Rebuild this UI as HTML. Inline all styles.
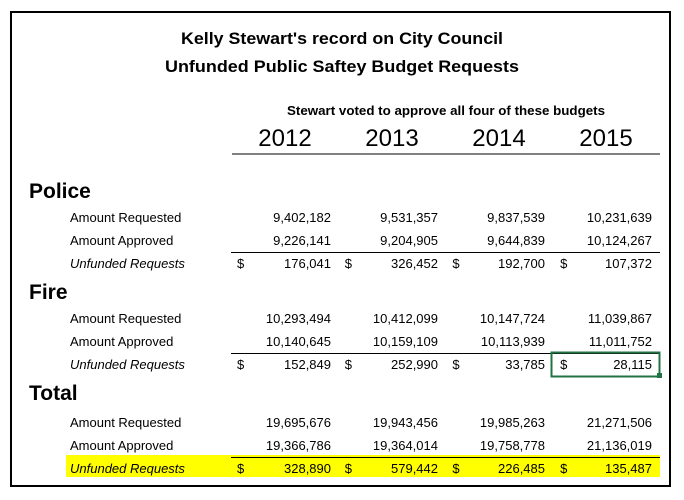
<!DOCTYPE html>
<html><head><meta charset="utf-8">
<style>
html,body{margin:0;padding:0;background:#fff;}
svg{display:block;font-family:"Liberation Sans",sans-serif;}
</style></head>
<body>
<svg id="chart" width="684" height="500" viewBox="0 0 684 500">
  <rect x="11" y="12" width="659" height="474" fill="#fff" stroke="#000" stroke-width="2"/>
  <text x="342" y="44" text-anchor="middle" font-size="17" font-weight="bold" textLength="322" lengthAdjust="spacingAndGlyphs">Kelly Stewart's record on City Council</text>
  <text x="342" y="72" text-anchor="middle" font-size="17" font-weight="bold" textLength="354" lengthAdjust="spacingAndGlyphs">Unfunded Public Saftey Budget Requests</text>
  <text x="446" y="115" text-anchor="middle" font-size="13" font-weight="bold" textLength="318" lengthAdjust="spacingAndGlyphs">Stewart voted to approve all four of these budgets</text>
  <line x1="232" y1="154" x2="660" y2="154" stroke="#000" stroke-width="1"/>
  <rect x="66" y="455" width="594" height="22" fill="#ffff00"/>
  <g id="cells"></g>
  <rect x="551.5" y="352.5" width="108" height="24" fill="none" stroke="#217346" stroke-width="2"/>
  <rect x="657" y="373" width="5" height="5" fill="#217346"/>
</svg>
<script>
const years = ["2012","2013","2014","2015"];
const sections = ["Police","Fire","Total"];
const rowLabels = ["Amount Requested","Amount Approved","Unfunded Requests"];
const policeRequested = [9402182,9531357,9837539,10231639];
const policeApproved = [9226141,9204905,9644839,10124267];
const policeUnfunded = [176041,326452,192700,107372];
const fireRequested = [10293494,10412099,10147724,11039867];
const fireApproved = [10140645,10159109,10113939,11011752];
const fireUnfunded = [152849,252990,33785,28115];
const totalRequested = [19695676,19943456,19985263,21271506];
const totalApproved = [19366786,19364014,19758778,21136019];
const totalUnfunded = [328890,579442,226485,135487];
const sectionData = [
  [policeRequested,policeApproved,policeUnfunded],
  [fireRequested,fireApproved,fireUnfunded],
  [totalRequested,totalApproved,totalUnfunded]
];

const NS = "http://www.w3.org/2000/svg";
const g = document.getElementById("cells");
function txt(x,y,s,attrs){
  const t = document.createElementNS(NS,"text");
  t.setAttribute("x",x); t.setAttribute("y",y);
  for (const k in attrs) t.setAttribute(k,attrs[k]);
  t.textContent = s; g.appendChild(t); return t;
}
const colRight = i => 331 + i*107;
const colDollar = i => 237 + i*107.7;
const colCenter = i => 285 + i*107;

years.forEach((yr,i)=>{
  const t = txt(colCenter(i),146,yr,{"text-anchor":"middle","font-size":"24"});
  
  
});

const sectionTop = [191,292,393];
const rowStart = [217,318,422];
sections.forEach((sec,si)=>{
  const top = sectionTop[si];
  const h = txt(29, top+7, sec, {"font-size":"21","font-weight":"bold"});
  
  
  const r0 = rowStart[si];
  const rowY = [r0, r0+23, r0+46];
  rowLabels.forEach((lab,ri)=>{
    const isU = ri===2;
    const l = txt(70,rowY[ri]+5,lab,{"font-size":"13","font-style":isU?"italic":"normal"});
    
    
    sectionData[si][ri].forEach((v,ci)=>{
      const n = txt(colRight(ci),rowY[ri]+5,v.toLocaleString("en-US"),{"text-anchor":"end","font-size":"13"});
      
      
      if(isU){
        const d = txt(colDollar(ci),rowY[ri]+5,"$",{"text-anchor":"start","font-size":"13"});
        
        
      }
    });
  });
  const ln = document.createElementNS(NS,"line");
  ln.setAttribute("x1",231); ln.setAttribute("x2",660);
  ln.setAttribute("y1",r0+35.5); ln.setAttribute("y2",r0+35.5);
  ln.setAttribute("stroke","#000"); ln.setAttribute("stroke-width","1");
  
  
  g.appendChild(ln);
});
</script>
</body></html>
